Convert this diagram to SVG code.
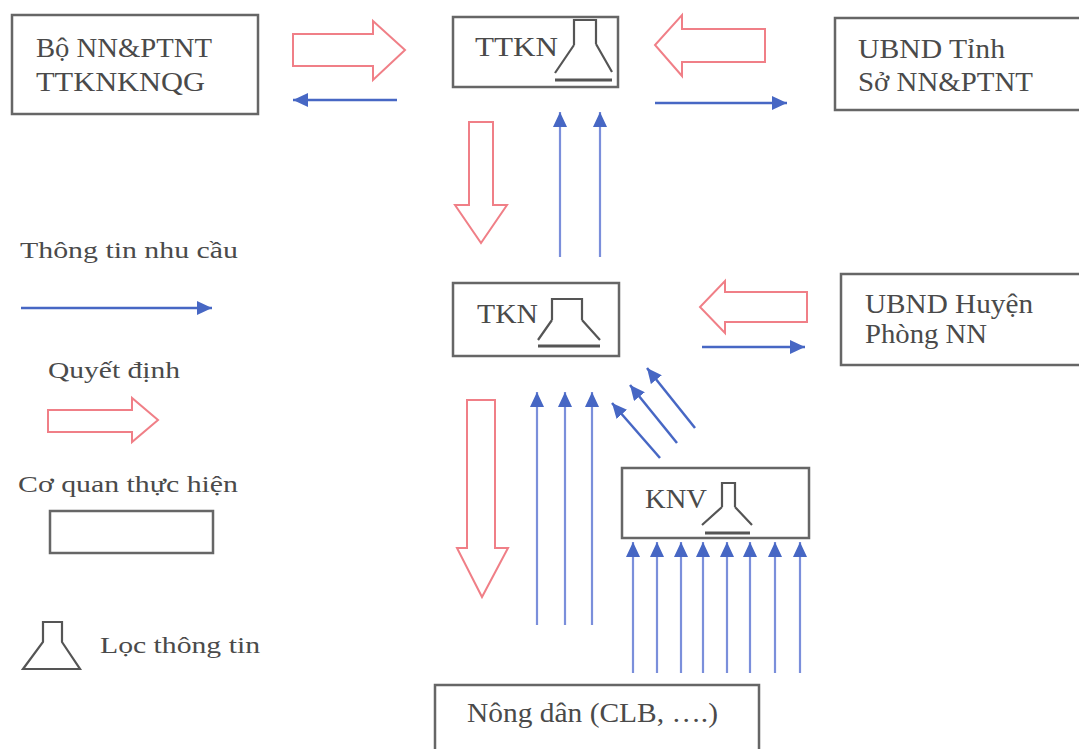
<svg xmlns="http://www.w3.org/2000/svg" width="1079" height="749" viewBox="0 0 1079 749">
<defs>
<marker id="ah" markerUnits="userSpaceOnUse" markerWidth="16" markerHeight="14" refX="15" refY="7" orient="auto">
<path d="M0,0 L15,7 L0,14 z" fill="#4767c4"/>
</marker>
</defs>
<style>
.box{fill:#fff;stroke:#666;stroke-width:2.5}
.t{font-family:"Liberation Serif","Times New Roman",serif;fill:#4a4a4a;font-size:27px}
.lt{font-family:"Liberation Serif","Times New Roman",serif;fill:#4a4a4a;font-size:24px}
.dec{fill:#fff;stroke:#f07f87;stroke-width:2;stroke-linejoin:miter}
.info{stroke:#4767c4;stroke-width:2.5;fill:none;marker-end:url(#ah)}
.infol{stroke:#7b8fdb;stroke-width:2.2;fill:none;marker-end:url(#ah)}
.flask{fill:none;stroke:#555;stroke-width:2.2}
.base{stroke:#555;stroke-width:3}
</style>
<rect width="1079" height="749" fill="#fff"/>

<g id="connectors">
<!-- decision arrows (red hollow) -->
<path class="dec" d="M293,34 H373 V21 L405,50 L373,80 V66 H293 Z"/>
<path class="dec" d="M765,29 H682 V15 L655,45 L682,76 V62 H765 Z"/>
<path class="dec" d="M469,122 V205 H455 L481,243 L507,205 H493 V122 Z"/>
<path class="dec" d="M807,292 H725 V281 L700,307 L725,333 V322 H807 Z"/>
<path class="dec" d="M467,400 V548 H457 L482,597 L508,548 H495 V400 Z"/>
<!-- information arrows (blue) -->
<line class="info" x1="397" y1="100" x2="293" y2="100"/>
<line class="info" x1="655" y1="103" x2="787" y2="103"/>
<line class="infol" x1="560" y1="257" x2="560" y2="112"/>
<line class="infol" x1="600" y1="257" x2="600" y2="112"/>
<line class="info" x1="702" y1="347" x2="805" y2="347"/>
<line class="infol" x1="537" y1="625" x2="537" y2="392"/>
<line class="infol" x1="565" y1="625" x2="565" y2="392"/>
<line class="infol" x1="592" y1="625" x2="592" y2="392"/>
<line class="info" x1="660" y1="458" x2="612" y2="403"/>
<line class="info" x1="677" y1="443" x2="630" y2="385"/>
<line class="info" x1="695" y1="428" x2="647" y2="368"/>
<line class="infol" x1="633" y1="673" x2="633" y2="542"/>
<line class="infol" x1="657" y1="673" x2="657" y2="542"/>
<line class="infol" x1="681" y1="673" x2="681" y2="542"/>
<line class="infol" x1="703" y1="673" x2="703" y2="542"/>
<line class="infol" x1="727" y1="673" x2="727" y2="542"/>
<line class="infol" x1="750" y1="673" x2="750" y2="542"/>
<line class="infol" x1="775" y1="673" x2="775" y2="542"/>
<line class="infol" x1="800" y1="673" x2="800" y2="542"/>
</g>

<g id="bo">
<rect class="box" x="12" y="15" width="246" height="99"/>
<text class="t" x="36" y="57" textLength="176" lengthAdjust="spacingAndGlyphs">Bộ NN&amp;PTNT</text>
<text class="t" x="36" y="91" textLength="169" lengthAdjust="spacingAndGlyphs">TTKNKNQG</text>
</g>

<g id="ttkn">
<rect class="box" x="453" y="17" width="165" height="70"/>
<text class="t" x="475" y="56" textLength="83" lengthAdjust="spacingAndGlyphs">TTKN</text>
<path class="flask" d="M574,45 V20 H596 V44 M574,45 L555,73 M596,44 L612,72"/>
<line class="base" x1="555" y1="80" x2="612" y2="80"/>
</g>

<g id="ubnd-tinh">
<rect class="box" x="835" y="18" width="260" height="92"/>
<text class="t" x="858" y="58" textLength="147" lengthAdjust="spacingAndGlyphs">UBND Tỉnh</text>
<text class="t" x="858" y="91" textLength="175" lengthAdjust="spacingAndGlyphs">Sở NN&amp;PTNT</text>
</g>

<g id="tkn">
<rect class="box" x="453" y="283" width="166" height="73"/>
<text class="t" x="477" y="323" textLength="61" lengthAdjust="spacingAndGlyphs">TKN</text>
<path class="flask" d="M552,320 V299 H582 V320 M552,320 L538,340 M582,320 L600,340"/>
<line class="base" x1="538" y1="346" x2="600" y2="346"/>
</g>

<g id="ubnd-huyen">
<rect class="box" x="841" y="274" width="260" height="91"/>
<text class="t" x="865" y="313" textLength="168" lengthAdjust="spacingAndGlyphs">UBND Huyện</text>
<text class="t" x="865" y="343" textLength="122" lengthAdjust="spacingAndGlyphs">Phòng NN</text>
</g>

<g id="knv">
<rect class="box" x="622" y="468" width="187" height="70"/>
<text class="t" x="645" y="508" textLength="62" lengthAdjust="spacingAndGlyphs">KNV</text>
<path class="flask" d="M722,507 V483 H735 V507 M722,507 L702,525 M735,507 L752,525"/>
<line class="base" x1="705" y1="533" x2="750" y2="533"/>
</g>

<g id="nong-dan">
<rect class="box" x="435" y="685" width="324" height="80"/>
<text class="t" x="467" y="722" textLength="251" lengthAdjust="spacingAndGlyphs">Nông dân (CLB, ….)</text>
</g>

<g id="legend">
<text class="lt" x="20" y="258" textLength="218" lengthAdjust="spacingAndGlyphs">Thông tin nhu cầu</text>
<line class="info" x1="21" y1="308" x2="212" y2="308"/>
<text class="lt" x="48" y="378" textLength="132" lengthAdjust="spacingAndGlyphs">Quyết định</text>
<path class="dec" d="M48,410 H132 V398 L158,420 L132,442 V432 H48 Z"/>
<text class="lt" x="18" y="492" textLength="220" lengthAdjust="spacingAndGlyphs">Cơ quan thực hiện</text>
<rect class="box" x="50" y="511" width="163" height="42"/>
<path class="flask" d="M43,642 V622 H62 V642 L80,669 H23 Z"/>
<text class="lt" x="100" y="653" textLength="160" lengthAdjust="spacingAndGlyphs">Lọc thông tin</text>
</g>
</svg>
